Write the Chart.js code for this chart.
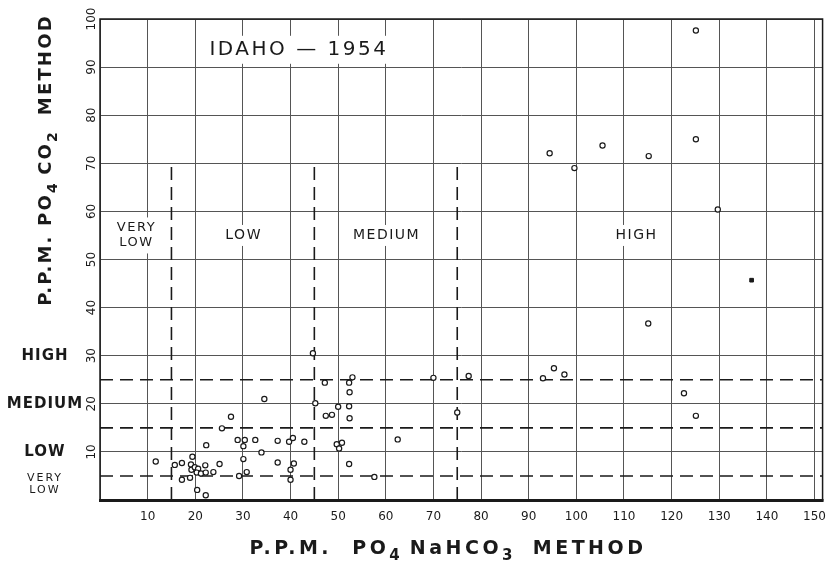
<!DOCTYPE html>
<html><head><meta charset="utf-8">
<script src="https://cdn.jsdelivr.net/npm/chart.js@4"></script>
<style>html,body{margin:0;padding:0;background:#fff}</style>
</head><body>
<canvas id="c" width="836" height="565"></canvas>
<script>
// ---- data ----
const nahco3Ppm = [11.7,15.7,17.2,17.2,18.9,19.4,19.1,19.2,19.9,20.6,20.3,21.2,22.2,23.8,22.1,20.4,22.2,22.3,25.1,25.6,27.5,28.9,30.4,30.1,32.6,34.5,33.9,30.1,29.2,30.8,37.3,37.3,39.7,40.5,40.7,40.0,40.0,42.9,44.7,45.2,47.2,47.4,48.7,50.0,49.7,50.8,50.2,52.3,52.4,52.4,52.3,53.0,52.3,57.6,62.5,70.0,75.0,77.4,93.0,95.3,97.5,122.6,125.1,115.1,129.7,99.6,94.4,105.5,115.2,125.1,125.1];
const co2Ppm    = [8.0,7.3,7.7,4.2,4.6,9.0,7.4,6.3,6.8,6.5,5.7,5.5,5.7,5.8,7.2,2.1,1.0,11.4,7.5,14.9,17.3,12.5,12.5,11.2,12.5,21.0,9.9,8.5,5.0,5.8,12.3,7.8,12.1,12.9,7.6,6.3,4.2,12.1,30.5,20.1,24.4,17.5,17.7,19.4,11.6,11.9,10.7,19.5,17.0,22.4,24.4,25.5,7.5,4.8,12.6,25.4,18.2,25.8,25.3,27.4,26.1,22.2,17.5,36.7,60.4,69.0,72.1,73.7,71.5,75.0,97.6];
const filledNahco3Ppm = [136.8];
const filledCo2Ppm = [45.7];
const xTickValues = [0,10,20,30,40,50,60,70,80,90,100,110,120,130,140,150];
const yTickValues = [0,10,20,30,40,50,60,70,80,90,100];
const xLevelBounds = [15,45,75];
const xLevelBoundTop = 70;
const yLevelBounds = [5,15,25];
const xLevelNames = [['VERY','LOW'],['LOW'],['MEDIUM'],['HIGH']];
const yLevelNames = [['VERY','LOW'],['LOW'],['MEDIUM'],['HIGH']];
const chartTitle = 'IDAHO — 1954';
const xTitleParts = [['P.P.M.  PO',0],['4',1],[' NaHCO',0],['3',1],['  METHOD',0]];
const yTitleParts = [['P.P.M. PO',0],['4',1],[' CO',0],['2',1],['  METHOD',0]];

// ---- layout (annotation placement) ----
const X_MAX = 151.7;
const xLevelLabelPos = [[7.5,55],[30,55],[60,55],[112.5,55]];
const yLevelLabelPos = [3.3,10,20,30];
const titlePos = [41.5,93.6];

const points = nahco3Ppm.map((x,i)=>({x, y: co2Ppm[i]}));
const filled = filledNahco3Ppm.map((x,i)=>({x, y: filledCo2Ppm[i]}));
const dashSets = [];
xLevelBounds.forEach(b=>dashSets.push({data:[{x:b,y:0},{x:b,y:xLevelBoundTop}]}));
yLevelBounds.forEach(b=>dashSets.push({data:[{x:0,y:b},{x:X_MAX,y:b}]}));

const FONT = '"DejaVu Sans", "Liberation Sans", sans-serif';
const INK = '#1a1a1a';

function drawRich(ctx, parts, x, y, size, spacing, weight) {
  const fonts = parts.map(p => weight + ' ' + (p[1] ? Math.round(size*0.78) : size) + 'px ' + FONT);
  let total = 0;
  const ws = parts.map((p,i)=>{ ctx.font = fonts[i]; ctx.letterSpacing = (p[1] ? 0 : spacing) + 'px'; const w = ctx.measureText(p[0]).width; total += w; return w; });
  let cx = x - total/2;
  ctx.textAlign = 'left';
  ctx.textBaseline = 'middle';
  parts.forEach((p,i)=>{ ctx.font = fonts[i]; ctx.letterSpacing = (p[1] ? 0 : spacing) + 'px'; ctx.fillText(p[0], cx, y + (p[1] ? size*0.4 : 0)); cx += ws[i]; });
  ctx.letterSpacing = '0px';
}

function labelBox(ctx, lines, px, py, size, spacing, lh) {
  ctx.font = size + 'px ' + FONT;
  ctx.letterSpacing = spacing + 'px';
  const w = Math.max(...lines.map(l=>ctx.measureText(l).width));
  const h = lines.length * lh;
  ctx.fillStyle = '#fff';
  ctx.fillRect(px - w/2 - 4, py - h/2 - 3, w + 8, h + 6);
  ctx.fillStyle = INK;
  ctx.textAlign = 'center';
  ctx.textBaseline = 'middle';
  lines.forEach((l,i)=>ctx.fillText(l, px + spacing/2, py - h/2 + lh*(i+0.5)));
  ctx.letterSpacing = '0px';
}

const annot = {
  id: 'annot',
  beforeDatasetsDraw(chart) {
    const {ctx, scales:{x, y}} = chart;
    ctx.save();
    xLevelNames.forEach((lines,i)=>{
      const px = x.getPixelForValue(xLevelLabelPos[i][0]);
      const py = y.getPixelForValue(xLevelLabelPos[i][1]);
      labelBox(ctx, lines, px, py, lines.length>1?13:14, 1.5, 15);
    });
    labelBox(ctx, [chartTitle], x.getPixelForValue(titlePos[0]), y.getPixelForValue(titlePos[1]), 20, 2.5, 22);
    ctx.restore();
  },
  afterDatasetsDraw(chart) {
    const {ctx, chartArea:a, scales:{y}} = chart;
    ctx.save();
    ctx.strokeStyle = INK;
    ctx.lineWidth = 1.5;
    ctx.strokeRect(a.left, a.top, a.right - a.left, a.bottom - a.top);
    ctx.lineWidth = 3;
    ctx.beginPath(); ctx.moveTo(a.left - 1, a.bottom + 0.5); ctx.lineTo(a.right + 1, a.bottom + 0.5); ctx.stroke();
    ctx.fillStyle = INK;
    yLevelNames.forEach((lines,i)=>{
      const py = y.getPixelForValue(yLevelLabelPos[i]);
      const multi = lines.length>1;
      const size = multi ? 11 : 15;
      const lh = multi ? 12 : 16;
      ctx.font = (multi ? '' : 'bold ') + size + 'px ' + FONT;
      ctx.letterSpacing = (multi?2:1) + 'px';
      ctx.textAlign = 'center';
      ctx.textBaseline = 'middle';
      lines.forEach((l,k)=>ctx.fillText(l, 45, py - (lines.length*lh)/2 + lh*(k+0.5)));
    });
    ctx.letterSpacing = '0px';
    drawRich(ctx, xTitleParts, 448, 549, 19, 3.5, 'bold');
    ctx.translate(46, 160);
    ctx.rotate(-Math.PI/2);
    drawRich(ctx, yTitleParts, 0, 0, 18, 2.2, 'bold');
    ctx.restore();
  }
};

new Chart(document.getElementById('c'), {
  type: 'scatter',
  data: {
    datasets: [
      { data: points, order: 0, pointRadius: 2.6, pointBorderWidth: 1.2, pointBorderColor: INK, pointBackgroundColor: '#fff', showLine: false },
      { data: filled, order: 0, pointStyle: 'rect', pointRadius: 2.6, pointBorderWidth: 1, pointBorderColor: INK, pointBackgroundColor: INK, showLine: false },
      ...dashSets.map(d => ({ data: d.data, order: 2, showLine: true, pointRadius: 0, borderColor: INK, borderWidth: 1.6, borderDash: [13, 7], fill: false }))
    ]
  },
  options: {
    responsive: false,
    devicePixelRatio: 1,
    animation: false,
    events: [],
    layout: { padding: { top: 19, right: 6, left: 0, bottom: 0 } },
    plugins: { legend: { display: false }, tooltip: { enabled: false } },
    scales: {
      x: {
        type: 'linear', min: 0, max: X_MAX,
        afterBuildTicks: s => { s.ticks = xTickValues.map(v=>({value:v})); },
        afterFit: s => { s.height = 65; },
        grid: { color: '#555', lineWidth: 1, drawTicks: false },
        border: { display: false },
        ticks: { padding: 10, color: INK, font: { family: FONT, size: 12 }, callback: v => v === 0 ? '' : String(v) }
      },
      y: {
        type: 'linear', min: 0, max: 100,
        afterBuildTicks: s => { s.ticks = yTickValues.map(v=>({value:v})); },
        afterFit: s => { s.width = 100; },
        grid: { color: '#555', lineWidth: 1, drawTicks: false },
        border: { display: false },
        ticks: { padding: -3, minRotation: 90, maxRotation: 90, crossAlign: 'center', color: INK, font: { family: FONT, size: 12 }, callback: v => v === 0 ? '' : String(v) }
      }
    }
  },
  plugins: [annot]
});
</script>
</body></html>
